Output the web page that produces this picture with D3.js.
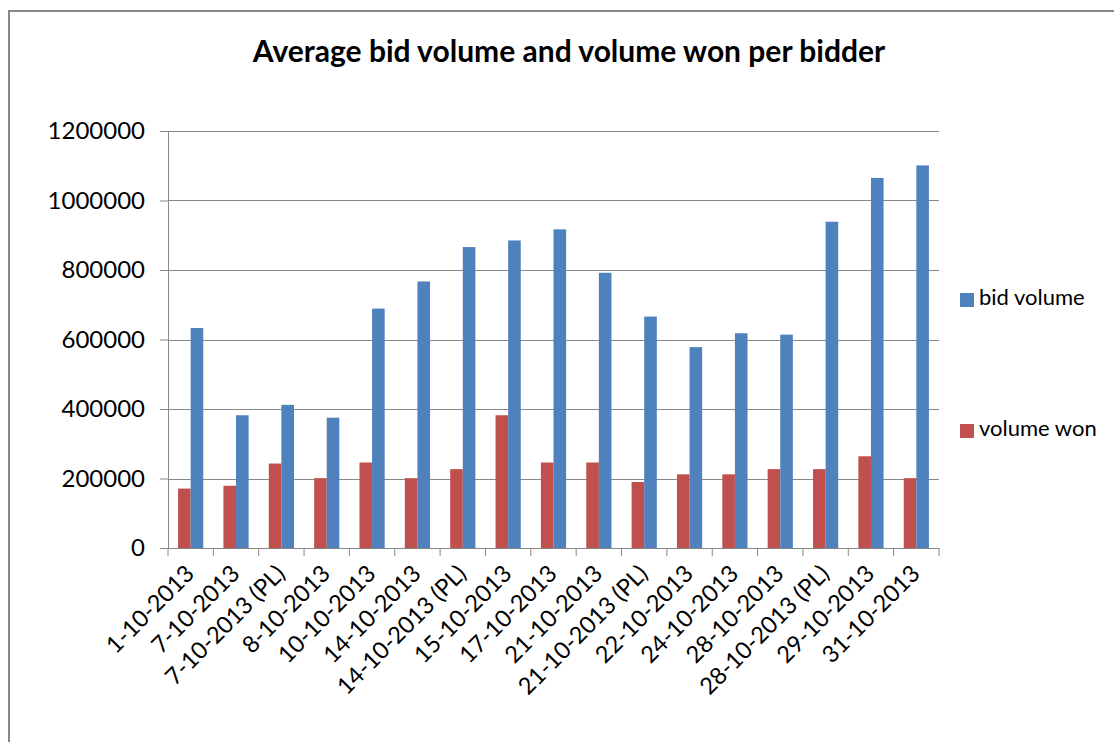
<!DOCTYPE html>
<html>
<head>
<meta charset="utf-8">
<script src="https://cdn.jsdelivr.net/npm/d3@7/dist/d3.min.js"></script>
<style>
  body { margin: 0; background: #fff; }
  svg { display: block; font-family: Lato, 'Open Sans', sans-serif; }
</style>
</head>
<body>
<div id="chart"></div>
<script>
// categories (auction days)
const dates = [
    '1-10-2013', '7-10-2013', '7-10-2013 (PL)', '8-10-2013', '10-10-2013',
    '14-10-2013', '14-10-2013 (PL)', '15-10-2013', '17-10-2013', '21-10-2013',
    '21-10-2013 (PL)', '22-10-2013', '24-10-2013', '28-10-2013', '28-10-2013 (PL)',
    '29-10-2013', '31-10-2013'
];
// series values
const volumeWon = [
    171000, 179000, 243000, 201000, 246000, 201000, 227000, 382000, 246000,
    246000, 190000, 212000, 212000, 227000, 227000, 264000, 201000
];
const bidVolume = [
    633000, 382000, 412000, 375000, 689000, 767000, 866000, 885000, 917000,
    792000, 666000, 578000, 618000, 614000, 939000, 1065000, 1101000
];
const yTicks = [0, 200000, 400000, 600000, 800000, 1000000, 1200000];
const seriesNames = ['volume won', 'bid volume'];
const seriesColors = ['#C0504D', '#4F81BD'];

const width = 1114, height = 742;
const margin = { top: 131, right: 175, bottom: 194, left: 168 };
const plotW = width - margin.left - margin.right;
const plotH = height - margin.top - margin.bottom;

const svg = d3.select('#chart').append('svg')
    .attr('width', width)
    .attr('height', height);

// chart frame
svg.append('rect')
    .attr('x', 9).attr('y', 11)
    .attr('width', 1200).attr('height', 900)
    .attr('fill', '#fff')
    .attr('stroke', '#878787')
    .attr('stroke-width', 2);

// title
svg.append('text')
    .attr('x', 569).attr('y', 62)
    .attr('text-anchor', 'middle')
    .attr('font-size', 30)
    .attr('font-weight', 'bold')
    .attr('fill', '#000')
    .text('Average bid volume and volume won per bidder');

const chart = svg.append('g')
    .attr('transform', `translate(${margin.left}, ${margin.top})`);

// scales
const x = d3.scaleBand().domain(dates).range([0, plotW]).padding(0);
const xSeries = d3.scaleBand().domain(seriesNames).range([0, x.bandwidth()])
    .paddingInner(0).paddingOuter(0.8);
const y = d3.scaleLinear().domain([0, 1200000]).range([plotH, 0]);

// gridlines
chart.append('g')
    .selectAll('line')
    .data(yTicks.slice(1))
    .join('line')
    .attr('x1', 0).attr('x2', plotW)
    .attr('y1', d => Math.round(y(d)) + 0.5)
    .attr('y2', d => Math.round(y(d)) + 0.5)
    .attr('stroke', '#888')
    .attr('stroke-width', 1);

// bars
const rows = dates.map((d, i) => ({ date: d, values: [volumeWon[i], bidVolume[i]] }));
const groups = chart.append('g')
    .selectAll('g')
    .data(rows)
    .join('g')
    .attr('transform', d => `translate(${x(d.date)}, 0)`);
groups.selectAll('rect')
    .data(d => d.values.map((v, j) => ({ name: seriesNames[j], value: v, color: seriesColors[j] })))
    .join('rect')
    .attr('x', d => xSeries(d.name))
    .attr('width', xSeries.bandwidth())
    .attr('y', d => y(d.value))
    .attr('height', d => plotH - y(d.value))
    .attr('fill', d => d.color);

// y axis
const yAxis = chart.append('g')
    .call(d3.axisLeft(y).tickValues(yTicks).tickFormat(d3.format('d')).tickSize(8).tickPadding(15));
yAxis.select('.domain').attr('stroke', '#888');
yAxis.selectAll('.tick line').attr('stroke', '#888');
yAxis.selectAll('.tick text')
    .attr('font-size', 24)
    .attr('font-family', 'Lato, sans-serif')
    .attr('fill', '#000');

// x axis: labels at centres, ticks at category boundaries
const xAxis = chart.append('g')
    .attr('transform', `translate(0, ${plotH})`)
    .call(d3.axisBottom(x).tickSize(0).tickSizeOuter(0));
xAxis.select('.domain').attr('stroke', '#888');
xAxis.selectAll('.tick text')
    .attr('font-size', 23.5)
    .attr('font-family', 'Lato, sans-serif')
    .attr('fill', '#000')
    .attr('text-anchor', 'end')
    .attr('x', 0).attr('y', 0).attr('dy', 0)
    .attr('transform', 'translate(5, 27) rotate(-45)');
xAxis.append('g')
    .selectAll('line')
    .data(dates.map(d => x(d)).concat([x.range()[1]]))
    .join('line')
    .attr('x1', d => d).attr('x2', d => d)
    .attr('y1', 0).attr('y2', 8)
    .attr('stroke', '#888');

// legend
const legend = svg.append('g');
const legendItems = [
    { name: 'bid volume', color: seriesColors[1], y: 293 },
    { name: 'volume won', color: seriesColors[0], y: 424 }
];
legend.selectAll('rect')
    .data(legendItems)
    .join('rect')
    .attr('x', 960).attr('y', d => d.y)
    .attr('width', 14).attr('height', 14)
    .attr('fill', d => d.color);
legend.selectAll('text')
    .data(legendItems)
    .join('text')
    .attr('x', 979).attr('y', d => d.y + 12)
    .attr('font-size', 22)
    .attr('fill', '#000')
    .text(d => d.name);
</script>
</body>
</html>
